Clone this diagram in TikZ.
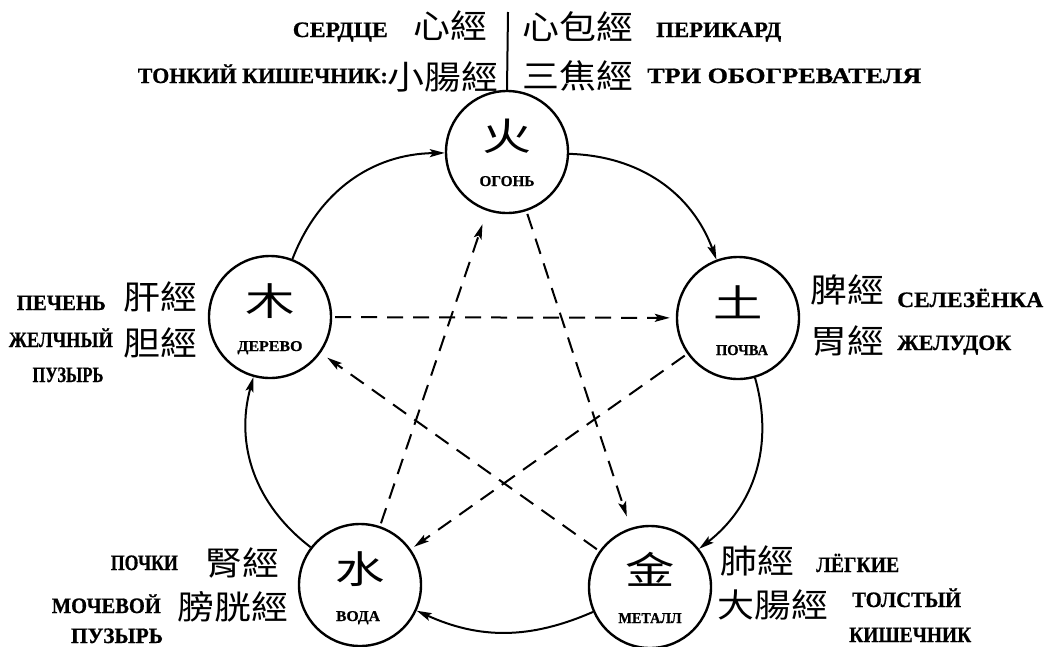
\documentclass[tikz,border=0pt]{standalone}
\usepackage{fontspec}
\usetikzlibrary{arrows.meta}
\newfontfamily\rufont{Liberation Serif}[BoldFeatures={FakeBold=0.8}]
\newfontfamily\cjk[FakeStretch=1.12]{Noto Sans CJK TC}
\newfontfamily\cjkel[FakeStretch=1.3]{Noto Sans CJK TC}
\newcommand\fw[2]{\resizebox{#1pt}{\height}{#2}}
\begin{document}
\begin{tikzpicture}[x=1pt,y=-1pt,
  el/.style={circle,draw,line width=2.4pt,minimum size=122pt,inner sep=0pt},
  ru/.style={inner sep=0pt,font=\rufont\bfseries\fontsize{22}{22}\selectfont},
  rus/.style={inner sep=0pt,font=\rufont\bfseries\fontsize{15}{15}\selectfont},
  cj/.style={inner sep=0pt,font=\cjk\fontsize{33}{33}\selectfont},
  elc/.style={inner sep=0pt,font=\cjkel\fontsize{38}{38}\selectfont},
  gen/.style={line width=2pt,-{Stealth[length=15pt,width=8pt,inset=3pt]}},
  ctl/.style={line width=2pt,dash pattern=on 16pt off 10pt,-{Stealth[length=15pt,width=8pt,inset=3pt]},shorten <=3pt}]
\useasboundingbox (0,0) rectangle (1044,646);
% element circles
\node[el] (fire)  at (507,152) {};
\node[el] (wood)  at (270,317) {};
\node[el] (earth) at (738,318) {};
\node[el] (water) at (360,585) {};
\node[el] (metal) at (650,587) {};
% characters inside
\node[elc] (firec)  at (507,136) {火};
\node[elc] (woodc)  at (270,301) {木};
\node[elc] (earthc) at (738,302) {土};
\node[elc] (waterc) at (360,569) {水};
\node[elc] (metalc) at (650,569) {金};
\node[rus,anchor=base] (firel)  at (507,186) {\fw{55}{ОГОНЬ}};
\node[rus,anchor=base] (woodl)  at (270,351) {\fw{65}{ДЕРЕВО}};
\node[rus,anchor=base] (earthl) at (742,355) {\fw{52}{ПОЧВА}};
\node[rus,anchor=base] (waterl) at (358,621) {\fw{44}{ВОДА}};
\node[rus,anchor=base] (metall) at (650,623) {\fw{63}{МЕТАЛЛ}};
% generating cycle
\draw[gen] (fire)  to[bend left=34] (earth);
\draw[gen] (earth) to[bend left=34] (metal);
\draw[gen] (metal) to[bend left=24] (water);
\draw[gen] (water) to[bend left=34] (wood);
\draw[gen] (wood)  to[bend left=34] (fire);
% controlling cycle
\draw[ctl,shorten >=6pt]  (wood)  -- (earth);
\draw[ctl,shorten >=4pt]  (earth) -- (water);
\draw[ctl,shorten >=14pt] (water) -- (fire);
\draw[ctl,shorten >=12pt] (fire)  -- (metal);
\draw[ctl,shorten >=8pt]  (metal) -- (wood);
% top bar
\coordinate (bartop) at (508,12);
\draw[line width=2pt] (bartop) -- (fire.north);
% top labels
\node[ru,anchor=base east] (t1) at (388,37) {\fw{95}{СЕРДЦЕ}};
\node[cj,anchor=west] (t2) at (413,26) {心經};
\node[cj,anchor=west] (t3) at (522,27) {心包經};
\node[ru,anchor=base west] (t4) at (656,37) {\fw{125}{ПЕРИКАРД}};
\node[ru,anchor=base east] (t5) at (388,83) {\fw{250}{ТОНКИЙ КИШЕЧНИК:}};
\node[cj,anchor=west] (t6) at (387,77) {小腸經};
\node[cj,anchor=west] (t7) at (522,76) {三焦經};
\node[ru,anchor=base west] (t8) at (647,83) {\fw{274}{ТРИ ОБОГРЕВАТЕЛЯ}};
% wood labels
\node[ru,anchor=base east] (w1) at (106,310) {\fw{89}{ПЕЧЕНЬ}};
\node[cj,anchor=west] (w2) at (123,297) {肝經};
\node[ru,anchor=base east] (w3) at (113,347) {\fw{104}{ЖЕЛЧНЫЙ}};
\node[cj,anchor=west] (w4) at (123,343) {胆經};
\node[ru,anchor=base] (w5) at (68,382) {\fw{71}{ПУЗЫРЬ}};
% earth labels
\node[cj,anchor=west] (e1) at (810,290) {脾經};
\node[ru,anchor=base west] (e2) at (897,307) {\fw{146}{СЕЛЕЗЁНКА}};
\node[cj,anchor=west] (e3) at (810,341) {胃經};
\node[ru,anchor=base west] (e4) at (897,350) {\fw{114}{ЖЕЛУДОК}};
% water labels
\node[ru,anchor=base east] (a1) at (178,570) {\fw{67}{ПОЧКИ}};
\node[cj,anchor=east] (a2) at (280,563) {腎經};
\node[ru,anchor=base east] (a3) at (161,613) {\fw{109}{МОЧЕВОЙ}};
\node[cj,anchor=east] (a4) at (289,607) {膀胱經};
\node[ru,anchor=base] (a5) at (117,643) {\fw{92}{ПУЗЫРЬ}};
% metal labels
\node[cj,anchor=west] (m1) at (720,561) {肺經};
\node[ru,anchor=base west] (m2) at (816,572) {\fw{83}{ЛЁГКИЕ}};
\node[cj,anchor=west] (m3) at (717,605) {大腸經};
\node[ru,anchor=base west] (m4) at (852,607) {\fw{109}{ТОЛСТЫЙ}};
\node[ru,anchor=base west] (m5) at (849,642) {\fw{122}{КИШЕЧНИК}};
\end{tikzpicture}
\end{document}
